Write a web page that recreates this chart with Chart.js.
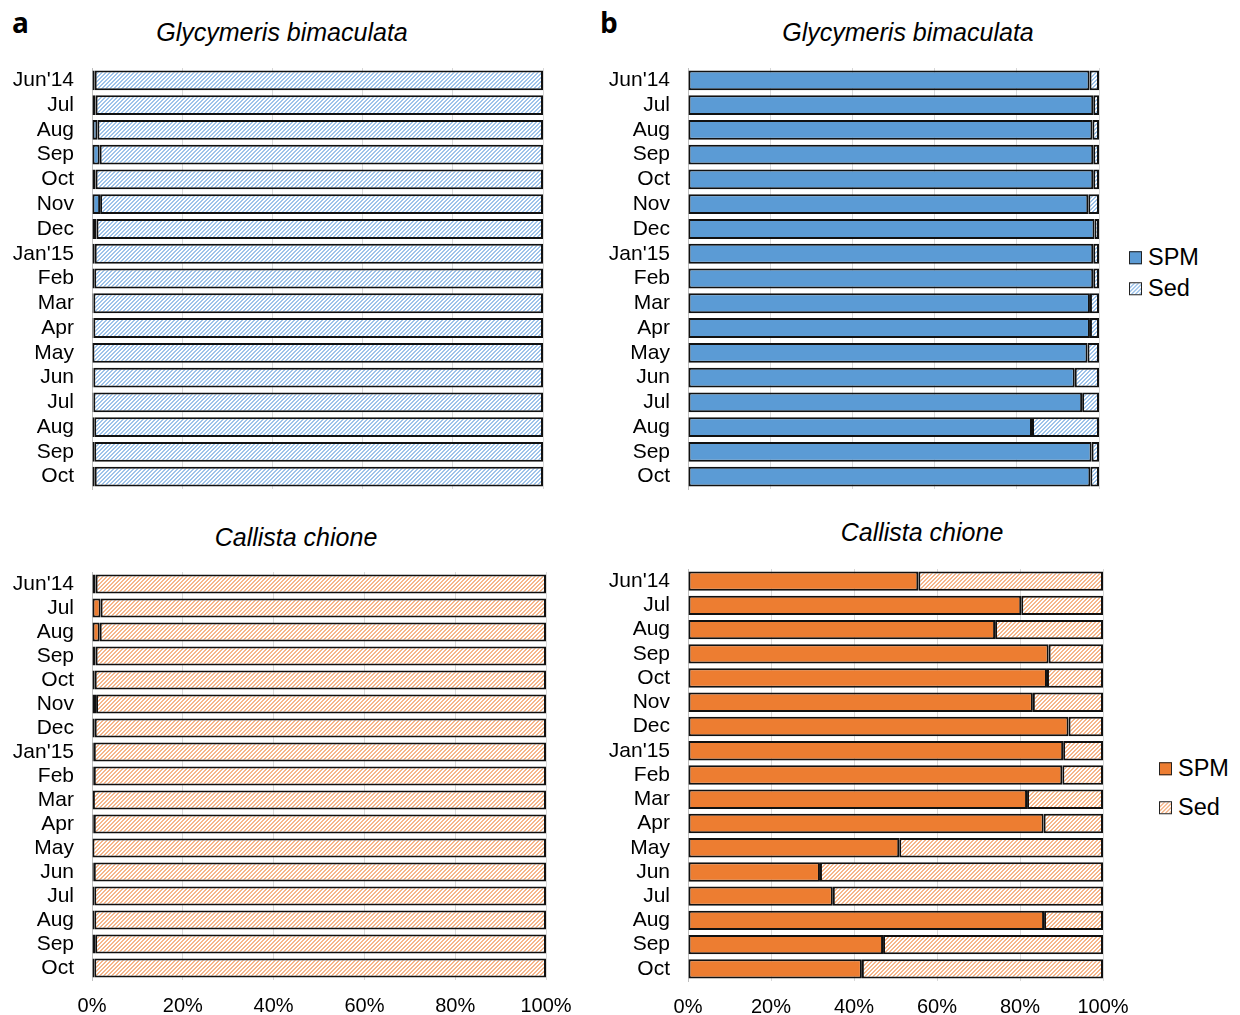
<!DOCTYPE html>
<html lang="en">
<head>
<meta charset="utf-8"/>
<title>SPM vs Sed</title>
<script src="https://cdn.jsdelivr.net/npm/chart.js"></script>
<style>
  body { margin: 0; background: #fff; width: 1240px; height: 1015px; position: relative; overflow: hidden;
         font-family: "Liberation Sans", Arial, sans-serif; color: #000; }
  canvas { position: absolute; }
  .panel { position: absolute; font-family: "Open Sans", sans-serif; font-weight: bold; font-size: 28px; line-height: 1; }
  .title { position: absolute; font-style: italic; font-size: 25px; line-height: 1; white-space: nowrap; transform: translate(-50%, -50%); }
  .leg { position: absolute; font-size: 23.5px; line-height: 1; white-space: nowrap; }
  .leg div { display: flex; align-items: center; position: absolute; left: 0; transform: translateY(-50%); }
  .sw { display: inline-block; width: 11px; height: 11px; border: 1px solid #222; margin-right: 6px; }
</style>
</head>
<body>
<div class="panel" style="left:12px; top:8px;">a</div>
<div class="panel" style="left:600px; top:8px;">b</div>
<div class="title" style="left:282px; top:32px;">Glycymeris bimaculata</div>
<div class="title" style="left:296px; top:537px;">Callista chione</div>
<div class="title" style="left:908px; top:32px;">Glycymeris bimaculata</div>
<div class="title" style="left:922px; top:532px;">Callista chione</div>

<canvas id="aTop" style="left:0px; top:50px;" width="580" height="450"></canvas>
<canvas id="aBot" style="left:0px; top:555px;" width="590" height="460"></canvas>
<canvas id="bTop" style="left:590px; top:50px;" width="520" height="450"></canvas>
<canvas id="bBot" style="left:590px; top:555px;" width="560" height="460"></canvas>

<div class="leg" style="left:1129px; top:0px;">
  <div style="top:258px;"><span class="sw" style="background:#5b9bd5"></span>SPM</div>
  <div style="top:289px;"><span class="sw hb"></span>Sed</div>
</div>
<div class="leg" style="left:1159px; top:0px;">
  <div style="top:769px;"><span class="sw" style="background:#ed7d31"></span>SPM</div>
  <div style="top:808px;"><span class="sw ho"></span>Sed</div>
</div>

<script>
  const months = ["Jun'14", "Jul", "Aug", "Sep", "Oct", "Nov", "Dec", "Jan'15", "Feb", "Mar", "Apr", "May", "Jun", "Jul", "Aug", "Sep", "Oct"];
  const xTicks = [0, 20, 40, 60, 80, 100];

  // a: Glycymeris bimaculata
  const glyA_spm = [0.6, 0.8, 1.2, 1.7, 0.8, 1.8, 1.0, 0.6, 0.5, 0.3, 0.3, 0.1, 0.3, 0.3, 0.5, 0.5, 0.6];
  const glyA_sed = [99.4, 99.2, 98.8, 98.3, 99.2, 98.2, 99.0, 99.4, 99.5, 99.7, 99.7, 99.9, 99.7, 99.7, 99.5, 99.5, 99.4];
  // a: Callista chione
  const calA_spm = [0.8, 1.9, 1.7, 0.8, 0.6, 0.9, 0.6, 0.4, 0.4, 0.2, 0.4, 0.1, 0.4, 0.5, 0.5, 0.7, 0.5];
  const calA_sed = [99.2, 98.1, 98.3, 99.2, 99.4, 99.1, 99.4, 99.6, 99.6, 99.8, 99.6, 99.9, 99.6, 99.5, 99.5, 99.3, 99.5];
  // b: Glycymeris bimaculata
  const glyB_spm = [97.7, 98.6, 98.4, 98.6, 98.6, 97.4, 98.9, 98.6, 98.6, 97.8, 97.8, 97.2, 94.1, 95.9, 83.7, 98.2, 97.9];
  const glyB_sed = [2.3, 1.4, 1.6, 1.4, 1.4, 2.6, 1.1, 1.4, 1.4, 2.2, 2.2, 2.8, 5.9, 4.1, 16.3, 1.8, 2.1];
  // b: Callista chione
  const calB_spm = [55.5, 80.3, 74.0, 86.9, 86.5, 83.1, 91.7, 90.4, 90.2, 81.7, 85.7, 50.9, 31.8, 34.9, 85.8, 47.0, 41.9];
  const calB_sed = [44.5, 19.7, 26.0, 13.1, 13.5, 16.9, 8.3, 9.6, 9.8, 18.3, 14.3, 49.1, 68.2, 65.1, 14.2, 53.0, 58.1];

  const BLUE = '#5b9bd5', ORANGE = '#ed7d31';

  // "/" hatch tile, 2px line every 4px
  function hatchCanvas(line) {
    const c = document.createElement('canvas');
    c.width = 4; c.height = 4;
    const g = c.getContext('2d');
    g.fillStyle = '#fff';
    g.fillRect(0, 0, 4, 4);
    g.fillStyle = line;
    for (let i = 0; i < 4; i++) {
      g.fillRect(3 - i, i, 1, 1);
      g.fillRect((4 - i) % 4, i, 1, 1);
    }
    return c;
  }
  const blueTile = hatchCanvas('#9ec3ea');
  const orangeTile = hatchCanvas('#f6b68a');
  const ctx0 = document.createElement('canvas').getContext('2d');
  const blueHatch = ctx0.createPattern(blueTile, 'repeat');
  const orangeHatch = ctx0.createPattern(orangeTile, 'repeat');

  document.querySelectorAll('.hb').forEach(el => el.style.background = 'url(' + blueTile.toDataURL() + ')');
  document.querySelectorAll('.ho').forEach(el => el.style.background = 'url(' + orangeTile.toDataURL() + ')');

  Chart.defaults.font.family = '"Liberation Sans", Arial, sans-serif';
  Chart.defaults.color = '#000';
  Chart.defaults.animation = false;

  function makeChart(id, spm, sed, color, hatch, o) {
    new Chart(document.getElementById(id), {
      type: 'bar',
      data: {
        labels: months,
        datasets: [
          { label: 'SPM', data: spm, backgroundColor: color, borderColor: '#111', borderWidth: 2, borderSkipped: false },
          { label: 'Sed', data: sed, backgroundColor: hatch, borderColor: '#111', borderWidth: 2, borderSkipped: false }
        ]
      },
      options: {
        indexAxis: 'y',
        responsive: false,
        barPercentage: 0.8,
        categoryPercentage: 1,
        layout: { padding: { left: 0, top: o.top, right: o.right, bottom: 0 } },
        plugins: { legend: { display: false }, tooltip: { enabled: false } },
        scales: {
          x: {
            stacked: true, min: 0, max: 100,
            afterFit: s => { s.height = o.xH; },
            afterBuildTicks: s => { s.ticks = xTicks.map(v => ({ value: v })); },
            grid: { color: '#d9d9d9', drawTicks: false },
            border: { display: false },
            ticks: { display: o.showX, padding: 14, font: { size: 20 }, callback: v => v + '%' }
          },
          y: {
            stacked: true,
            // fixed axis width, and no extra label padding above/below the plot
            afterFit: s => { s.width = o.yW; s.paddingTop = 0; s.paddingBottom = 0; },
            grid: { display: false, drawTicks: false },
            border: { display: true, color: '#bfbfbf', width: 1 },
            ticks: { padding: 18, font: { size: 21 }, autoSkip: false }
          }
        }
      }
    });
  }

  makeChart('aTop', glyA_spm, glyA_sed, BLUE, blueHatch, { yW: 92, top: 18, right: 37, xH: 11, showX: false });
  makeChart('aBot', calA_spm, calA_sed, ORANGE, orangeHatch, { yW: 92, top: 17, right: 44, xH: 35, showX: true });
  makeChart('bTop', glyB_spm, glyB_sed, BLUE, blueHatch, { yW: 98, top: 18, right: 11, xH: 11, showX: false });
  makeChart('bBot', calB_spm, calB_sed, ORANGE, orangeHatch, { yW: 98, top: 14, right: 47, xH: 34, showX: true });
</script>
</body>
</html>
